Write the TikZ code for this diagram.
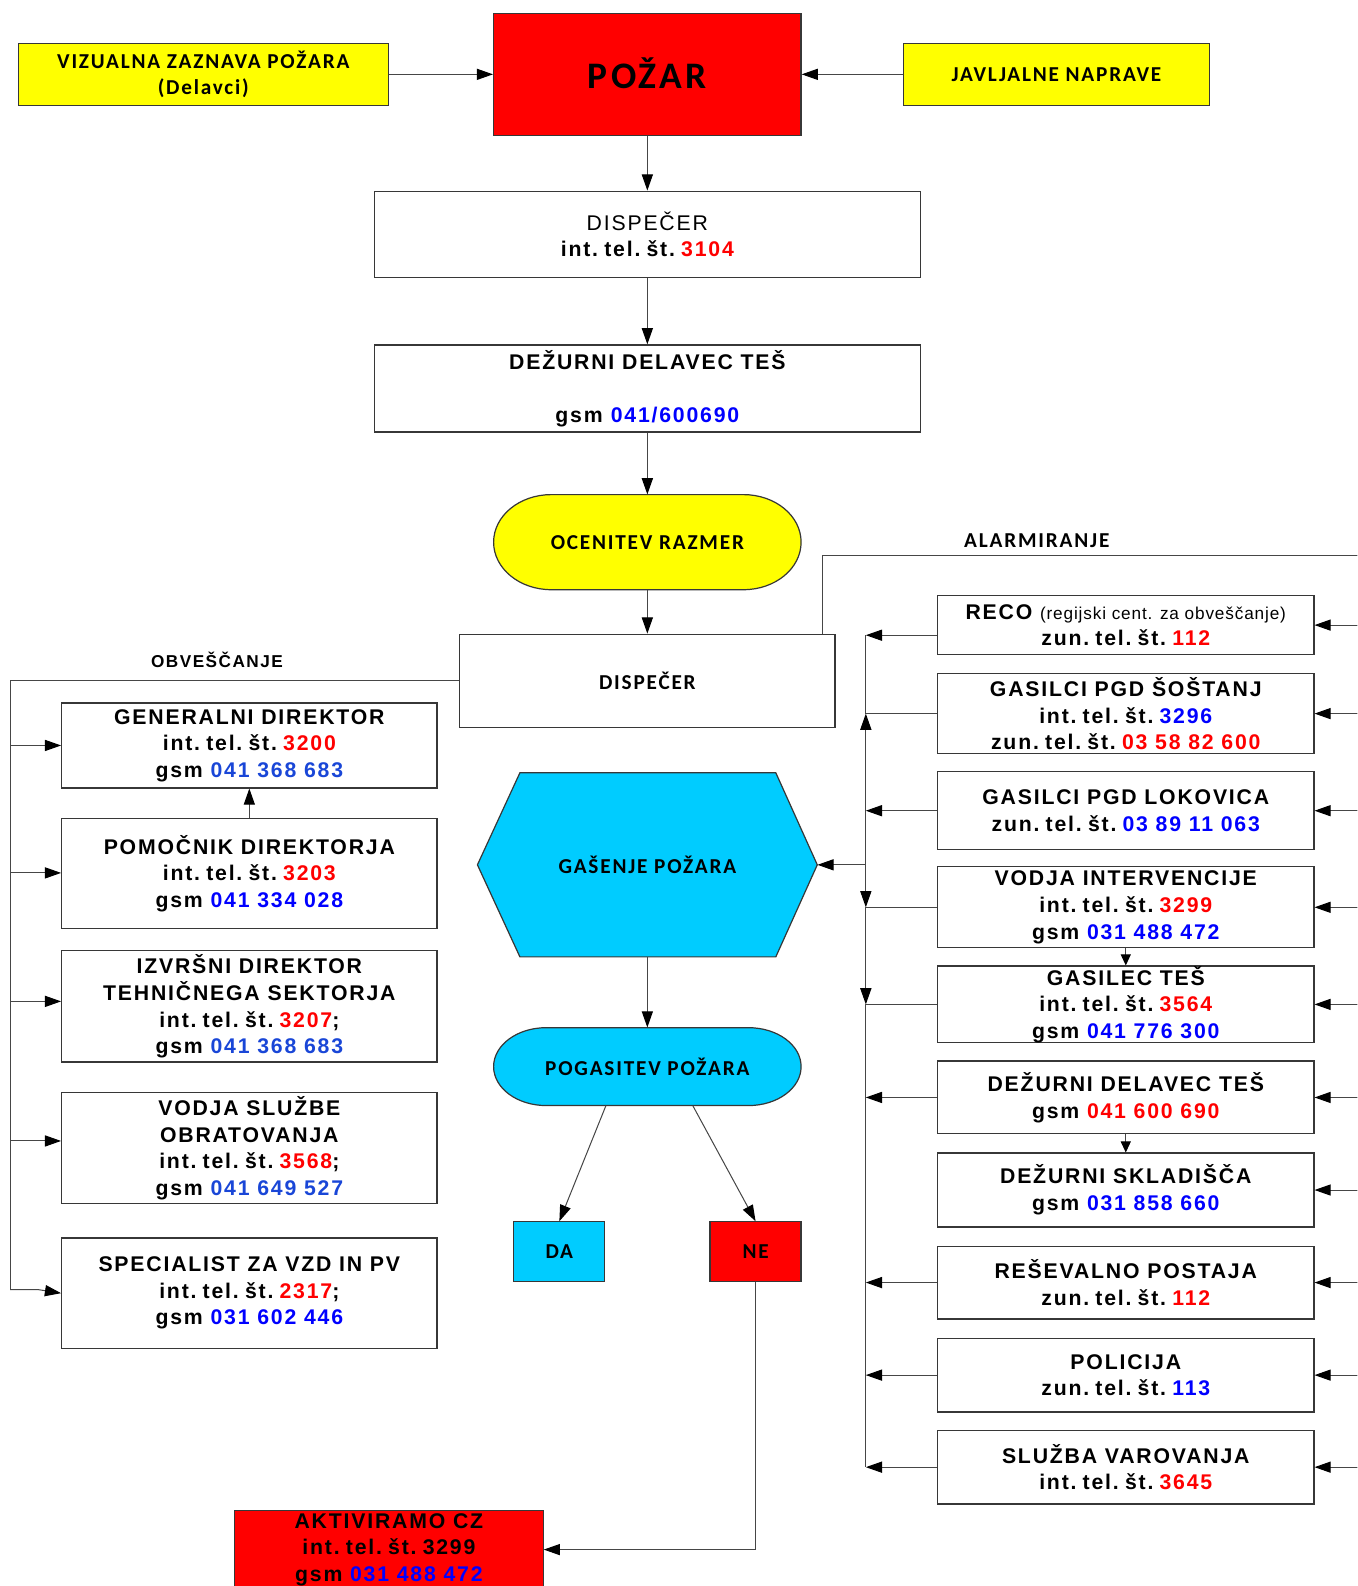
\documentclass[tikz,border=0pt]{standalone}
\usepackage{fontspec}
\usetikzlibrary{arrows.meta,calc}
\setmainfont{Liberation Sans}
\newfontfamily\arialsp[LetterSpace=8.5]{Liberation Sans}
\newfontfamily\arialreg[LetterSpace=5]{Liberation Sans}
\newfontfamily\calsp[LetterSpace=8.5]{Carlito}
\definecolor{fred}{RGB}{255,0,0}
\definecolor{fblue}{RGB}{0,0,255}
\definecolor{fbluea}{RGB}{25,70,215}
\definecolor{fyel}{RGB}{255,255,0}
\definecolor{fcyan}{RGB}{0,204,255}
\definecolor{edgec}{RGB}{55,55,55}
\definecolor{linec}{RGB}{70,70,70}
\newcommand\rn[1]{\textcolor{fred}{#1}}
\newcommand\bn[1]{\textcolor{fblue}{#1}}
\newcommand\ban[1]{\textcolor{fbluea}{#1}}
\newcommand\itel{int.\kern-1.5pt\ tel.\kern-1.5pt\ št.\kern-1.5pt\ }
\newcommand\ztel{zun.\kern-1.5pt\ tel.\kern-1.5pt\ št.\kern-1.5pt\ }
\newcommand\bxf{\arialsp\bfseries\fontsize{21}{26.3}\selectfont}
\newcommand\clf{\calsp\bfseries\fontsize{21}{26}\selectfont}
\begin{document}
\begin{tikzpicture}[x=1pt,y=-1pt,
  box/.style={draw=edgec, line width=1.2pt, rectangle, inner sep=0pt, align=center, font=\bxf},
  cbox/.style={box, font=\clf},
  lbox/.style={box, minimum width=371pt},
  rbox/.style={box, minimum width=372pt},
  conn/.style={draw=linec, line width=1pt, -{Triangle[length=16pt,width=11pt,color=black]}},
  conns/.style={draw=linec, line width=1pt, -{Triangle[length=11pt,width=10pt,color=black]}},
  plainln/.style={draw=linec, line width=1pt},
  shp/.style={draw=edgec, line width=1.2pt}
]
\useasboundingbox (0,0) rectangle (1342,1568);
\clip (0,0) rectangle (1342,1568);

% ---------- top ----------
\node[cbox, fill=fyel, minimum width=366pt, minimum height=61pt] (viz) at (201,73.5) {VIZUALNA ZAZNAVA POŽARA\\(Delavci)};
\node[box, fill=fred, minimum width=304pt, minimum height=121pt, font=\calsp\bfseries\fontsize{37}{40}\selectfont] (pozar) at (640,73.5) {\raisebox{2pt}{POŽAR}};
\node[cbox, fill=fyel, minimum width=303pt, minimum height=61pt] (jav) at (1044.5,73.5) {JAVLJALNE NAPRAVE};

\node[box, minimum width=540pt, minimum height=85pt] (disp1) at (640,231.5) {{\mdseries DISPEČER}\\\itel\rn{3104}};
\node[box, minimum width=540pt, minimum height=86pt] (dez1) at (640,384) {DEŽURNI DELAVEC TEŠ\\[26pt]gsm\hspace{8pt}\bn{041/600690}};

% OCENITEV stadium
\path[shp, fill=fyel] (545,489) -- (735,489) .. controls (766.5,489) and (792,510) .. (792,536) .. controls (792,562) and (766.5,583) .. (735,583) -- (545,583) .. controls (513.5,583) and (488,562) .. (488,536) .. controls (488,510) and (513.5,489) .. (545,489) -- cycle;
\node[inner sep=0pt, minimum width=304pt, minimum height=94pt, font=\clf] (ocen) at (640,536) {OCENITEV RAZMER};

\node[cbox, minimum width=371pt, minimum height=92pt] (disp2) at (640,673) {DISPEČER};

\node[font=\clf] (alarm) at (1025,535) {ALARMIRANJE};
\node[font=\arialsp\bfseries\fontsize{17}{20}\selectfont] (obv) at (214.5,652) {OBVEŠČANJE};

% hexagon
\path[shp, fill=fcyan] (514,764) -- (767,764) -- (808,855) -- (767,946) -- (514,946) -- (472,855) -- cycle;
\node[inner sep=0pt, minimum width=336pt, minimum height=182pt, font=\clf] (hex) at (640,855) {GAŠENJE POŽARA};

% POGASITEV stadium
\path[shp, fill=fcyan] (540,1016) -- (740,1016) .. controls (768.7,1016) and (792,1033.2) .. (792,1054.5) .. controls (792,1075.8) and (768.7,1093) .. (740,1093) -- (540,1093) .. controls (511.3,1093) and (488,1075.8) .. (488,1054.5) .. controls (488,1033.2) and (511.3,1016) .. (540,1016) -- cycle;
\node[inner sep=0pt, minimum width=304pt, minimum height=77pt, font=\clf] (pog) at (640,1054.5) {POGASITEV POŽARA};

\node[cbox, fill=fcyan, minimum width=90pt, minimum height=59pt] (da) at (553,1237.5) {DA};
\node[cbox, fill=fred, minimum width=90pt, minimum height=59pt] (ne) at (747,1237.5) {NE};

\node[box, fill=fred, minimum width=305pt, minimum height=78pt] (akt) at (384.5,1532) {AKTIVIRAMO CZ\\\itel 3299\\gsm \bn{031 488 472}};

% ---------- left boxes ----------
\node[lbox, minimum height=84pt] (gen) at (246.5,737) {GENERALNI DIREKTOR\\\itel\rn{3200}\\gsm \ban{041 368 683}};
\node[lbox, minimum height=109pt] (pom) at (246.5,863.5) {POMOČNIK DIREKTORJA\\\itel\rn{3203}\\gsm \bn{041 334 028}};
\node[lbox, minimum height=110pt] (izv) at (246.5,995) {IZVRŠNI DIREKTOR\\TEHNIČNEGA SEKTORJA\\\itel\rn{3207};\\gsm \ban{041 368 683}};
\node[lbox, minimum height=110pt] (vod) at (246.5,1135) {VODJA SLUŽBE\\OBRATOVANJA\\\itel\rn{3568};\\gsm \ban{041 649 527}};
\node[lbox, minimum height=109pt] (spec) at (246.5,1278.5) {SPECIALIST ZA VZD IN PV\\\itel\rn{2317};\\gsm \bn{031 602 446}};

% ---------- right boxes ----------
\node[rbox, minimum height=58pt] (reco) at (1113,618) {RECO {\arialreg\mdseries\fontsize{17}{20}\selectfont (regijski cent. za obveščanje)}\\\ztel\rn{112}};
\node[rbox, minimum height=79pt] (sos) at (1113,705.5) {GASILCI PGD ŠOŠTANJ\\\itel\bn{3296}\\\ztel\rn{03 58 82 600}};
\node[rbox, minimum height=77pt] (lok) at (1113,801.5) {GASILCI PGD LOKOVICA\\\ztel\bn{03 89 11 063}};
\node[rbox, minimum height=80pt] (vint) at (1113,897) {VODJA INTERVENCIJE\\\itel\rn{3299}\\gsm \bn{031 488 472}};
\node[rbox, minimum height=74pt] (gtes) at (1113,993) {GASILEC TEŠ\\\itel\rn{3564}\\gsm \bn{041 776 300}};
\node[rbox, minimum height=72pt] (dtes) at (1113,1085) {DEŽURNI DELAVEC TEŠ\\gsm \rn{041 600 690}};
\node[rbox, minimum height=73pt] (dskl) at (1113,1176.5) {DEŽURNI SKLADIŠČA\\gsm \bn{031 858 660}};
\node[rbox, minimum height=72pt] (res) at (1113,1268) {REŠEVALNO POSTAJA\\\ztel\rn{112}};
\node[rbox, minimum height=73pt] (pol) at (1113,1359.5) {POLICIJA\\\ztel\bn{113}};
\node[rbox, minimum height=73pt] (slv) at (1113,1450.5) {SLUŽBA VAROVANJA\\\itel\rn{3645}};

% ---------- main flow ----------
\draw[conn] (viz.east) -- (viz.east -| pozar.west);
\draw[conn] (jav.west) -- (jav.west -| pozar.east);
\draw[conn] (pozar.south) -- (disp1.north);
\draw[conn] (disp1.south) -- (dez1.north);
\draw[conn] (dez1.south) -- (ocen.north);
\draw[conn] (ocen.south) -- (disp2.north);
\draw[conn] (hex.south) -- (pog.north);
\draw[conn] ($(pog.south)+(-41,0)$) -- (da.north);
\draw[conn] ($(pog.south)+(45,0)$) -- (ne.north);
\draw[conn] (ne.south) |- (akt.east);

% ALARMIRANJE line
\coordinate (alE) at (1350,549);
\draw[plainln] ($(disp2.north east)+(-13,0)$) |- (alE);

% OBVESCANJE bus (left)
\coordinate (lbTop) at (10,673);
\coordinate (lbBot) at (10,1275);
\coordinate (lbBend) at (38,1275);
\draw[plainln] (disp2.west) -- (lbTop) -- (lbBot);
\coordinate (lb1) at (10,737);
\coordinate (lb2) at (10,863);
\coordinate (lb3) at (10,990);
\coordinate (lb4) at (10,1128);
\draw[conn] (lb1) -- (lb1 -| gen.west);
\draw[conn] (lb2) -- (lb2 -| pom.west);
\draw[conn] (lb3) -- (lb3 -| izv.west);
\draw[conn] (lb4) -- (lb4 -| vod.west);
\draw[conn] (lbBot) -- (lbBend) -- (spec.west);
\draw[conn] (pom.north) -- (gen.south);

% right bus
\coordinate (rbReco) at (856,628);
\coordinate (rbSos) at (856,705.5);
\coordinate (rbLok) at (856,801.5);
\coordinate (rbHex) at (856,855);
\coordinate (rbVint) at (856,897);
\coordinate (rbGtes) at (856,993);
\coordinate (rbDtes) at (856,1085);
\coordinate (rbRes) at (856,1268);
\coordinate (rbPol) at (856,1359.5);
\coordinate (rbSlv) at (856,1450.5);
\draw[conn] (rbReco -| reco.west) -- (rbReco);
\draw[plainln] (sos.west) -- (rbSos) -- (rbReco);
\draw[conn] (rbHex) -- (rbSos);
\draw[conn] (lok.west) -- (rbLok);
\draw[conn] (rbHex) -- (hex.east);
\draw[plainln] (vint.west) -- (rbVint);
\draw[conn] (rbHex) -- (rbVint);
\draw[plainln] (gtes.west) -- (rbGtes);
\draw[conn] (rbVint) -- (rbGtes);
\draw[plainln] (rbGtes) -- (rbSlv);
\draw[conn] (dtes.west) -- (rbDtes);
\draw[conn] (res.west) -- (rbRes);
\draw[conn] (pol.west) -- (rbPol);
\draw[conn] (slv.west) -- (rbSlv);

\draw[conns] (vint.south) -- (gtes.north);
\draw[conns] (dtes.south) -- (dskl.north);

% incoming from the right edge
\coordinate (redge) at (1350,0);
\foreach \n in {reco,sos,lok,vint,gtes,dtes,dskl,res,pol,slv}
  \draw[conn] (\n.east -| redge) -- (\n.east);
\end{tikzpicture}
\end{document}
